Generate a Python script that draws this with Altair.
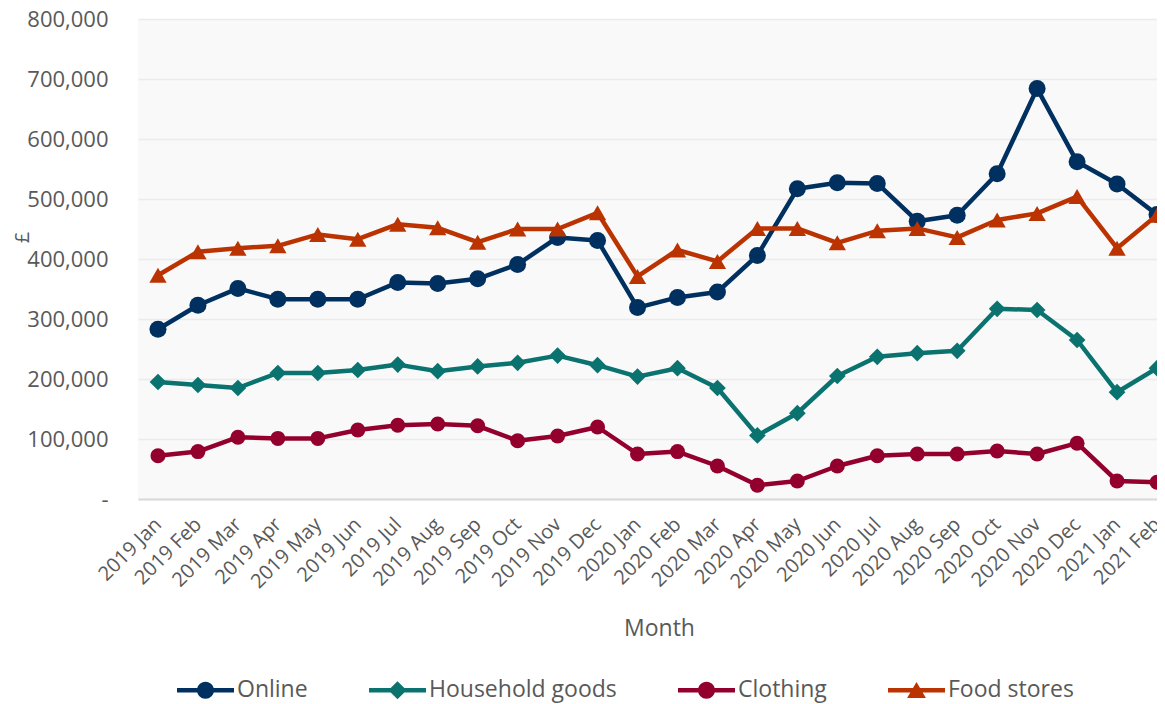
import altair as alt
import pandas as pd

months = ["2019 Jan", "2019 Feb", "2019 Mar", "2019 Apr", "2019 May", "2019 Jun",
          "2019 Jul", "2019 Aug", "2019 Sep", "2019 Oct", "2019 Nov", "2019 Dec",
          "2020 Jan", "2020 Feb", "2020 Mar", "2020 Apr", "2020 May", "2020 Jun",
          "2020 Jul", "2020 Aug", "2020 Sep", "2020 Oct", "2020 Nov", "2020 Dec",
          "2021 Jan", "2021 Feb"]

series_names = ["Online", "Household goods", "Clothing", "Food stores"]

# values in £ thousands
online = [283, 323, 351, 333, 333, 333, 361, 359, 367, 391, 436, 431,
          319, 336, 345, 406, 517, 527, 526, 463, 473, 542, 684, 562, 525, 474]
household = [195, 190, 185, 210, 210, 215, 224, 213, 221, 227, 239, 223,
             204, 218, 185, 106, 143, 205, 237, 243, 247, 317, 315, 265, 178, 218]
clothing = [72, 79, 103, 101, 101, 115, 123, 125, 122, 97, 105, 120,
            75, 79, 55, 23, 30, 55, 72, 75, 75, 80, 75, 93, 30, 28]
food = [373, 412, 418, 422, 441, 433, 458, 452, 428, 450, 450, 477,
        371, 415, 396, 451, 451, 427, 447, 451, 436, 465, 476, 504, 418, 473]

colors = ["#00305F", "#0B736F", "#94002E", "#BA3300"]
y_ticks = [0, 100000, 200000, 300000, 400000, 500000, 600000, 700000, 800000]

rows = []
for name, vals in zip(series_names, [online, household, clothing, food]):
    for i, (m, v) in enumerate(zip(months, vals)):
        rows.append({"idx": i, "month": m, "series": name, "value": v * 1000})
df = pd.DataFrame(rows)

label_expr = "[" + ",".join("'%s'" % m for m in months) + "][datum.value]"
TXT = "#595959"

x_enc = alt.X(
    "idx:Q",
    scale=alt.Scale(domain=[-0.5, 25], nice=False, zero=False),
    axis=alt.Axis(
        values=list(range(len(months))), labelExpr=label_expr,
        labelAngle=-45, labelAlign="right", labelBaseline="middle",
        labelPadding=22, ticks=False, grid=False,
        domainColor="#d9d9d9", domainWidth=2,
        labelFontSize=20, labelColor=TXT, labelOverlap=False, labelFlush=False,
        title="Month", titleX=521, titleY=129, titleBaseline="middle",
        titleAlign="center", titleFontSize=23, titleColor=TXT, titleFontWeight="normal",
    ),
)
y_enc = alt.Y(
    "value:Q",
    scale=alt.Scale(domain=[0, 800000], nice=False),
    axis=alt.Axis(
        values=y_ticks,
        labelExpr="datum.value == 0 ? '-\u00a0\u00a0\u00a0' : format(datum.value, ',')",
        ticks=False, domain=False, labelPadding=30, labelFontSize=22, labelColor=TXT,
        gridColor="#ebebeb", gridWidth=1.5,
        title="£", titleX=-116, titleY=218, titleAngle=270, titleBaseline="middle",
        titleAlign="center", titleFontSize=20, titleColor=TXT, titleFontWeight="normal",
    ),
)
color_scale = alt.Scale(domain=series_names, range=colors)

layers = []
marker_spec = [("circle", 289), ("diamond", 280), ("circle", 225), ("triangle-up", 300)]
for name, col, (shp, sz) in zip(series_names, colors, marker_spec):
    base = alt.Chart(df).transform_filter(alt.datum.series == name)
    layers.append(base.mark_line(strokeWidth=4.5, strokeJoin="round", strokeCap="round", color=col)
                  .encode(x=x_enc, y=y_enc))
    layers.append(base.mark_point(filled=True, shape=shp, size=sz, opacity=1, color=col)
                  .encode(x=x_enc, y=y_enc))

bar = "M-1,-0.075H1V0.075H-1Z"
circ = "M-0.3,0A0.3,0.3 0 1,1 0.3,0A0.3,0.3 0 1,1 -0.3,0Z"
diam = "M0,-0.32L0.32,0L0,0.32L-0.32,0Z"
tri = "M0,-0.29L0.33,0.27L-0.33,0.27Z"
legend_paths = [bar + circ, bar + diam, bar + circ, bar + tri]

leg = alt.Legend(title=None, orient="none", legendX=39, legendY=642.5,
                 direction="horizontal", columns=4, columnPadding=61,
                 labelFontSize=23, labelColor=TXT, labelOffset=3, labelLimit=400,
                 symbolStrokeWidth=0, symbolSize=3249, symbolOpacity=1, padding=0)

legend_layer = (
    alt.Chart(df).transform_filter("false")
    .mark_point(filled=True, opacity=1, size=3249)
    .encode(
        x=x_enc, y=y_enc,
        color=alt.Color("series:N", scale=color_scale, legend=leg),
        shape=alt.Shape("series:N", scale=alt.Scale(domain=series_names, range=legend_paths), legend=leg),
    )
)
layers.append(legend_layer)

chart = (
    alt.layer(*layers)
    .properties(width=1019, height=480,
                padding={"left": 130, "top": 11, "right": 0, "bottom": 206},
                autosize=alt.AutoSizeParams(type="none"))
    .configure(font="Open Sans")
    .configure_view(fill="#f9f9f9", strokeWidth=0)
)

chart.save("out.html", embed_options={"renderer": "svg", "actions": False})
